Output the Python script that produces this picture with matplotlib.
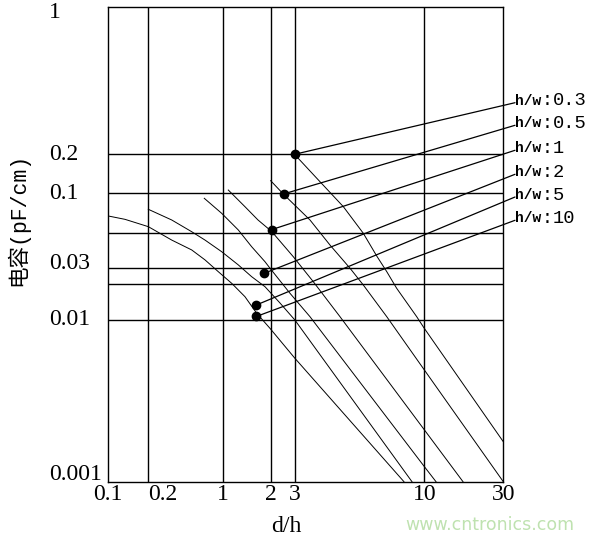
import numpy as np
import matplotlib
matplotlib.use("Agg")
import matplotlib.pyplot as plt
from matplotlib import transforms
from matplotlib.ticker import NullLocator

plt.rcParams["font.family"] = ["Liberation Serif", "Noto Sans CJK SC"]

# axis ticks / grid (the original chart uses an uneven log axis)
x_ticks = [0.1, 0.2, 1, 2, 3, 10, 30]
x_tick_labels = ["0.1", "0.2", "1", "2", "3", "10", "30"]
x_grid = [0.2, 1, 2, 3, 10]
y_ticks = [1, 0.2, 0.1, 0.03, 0.01, 0.001]
y_tick_labels = ["1", "0.2", "0.1", "0.03", "0.01", "0.001"]
y_grid = [0.2, 0.1, 0.05, 0.03, 0.02, 0.01]

# curves: d/h vs capacitance (pF/cm) for each h/w
hw_labels = ["0.3", "0.5", "1", "2", "5", "10"]
dh_03 = [3.0, 3.8, 4.72, 5.68, 6.43, 7.06, 7.74, 9.32, 10, 30]
c_03 = [0.2, 0.1229, 0.0793, 0.05, 0.0359, 0.0275, 0.01848, 0.01057, 0.00882, 0.001764]
dh_05 = [2.0, 2.479, 3.463, 4.17, 5.02, 5.68, 7.06, 10, 30]
c_05 = [0.1251, 0.0988, 0.063, 0.0421, 0.03, 0.01972, 0.01057, 0.00489, 0.001]
dh_1 = [1.076, 1.373, 1.661, 2.034, 2.939, 3.571, 4.575, 10, 17.13]
c_1 = [0.106, 0.0793, 0.063, 0.0516, 0.0355, 0.02136, 0.01057, 0.00209, 0.001]
dh_2 = [0.665, 0.966, 1.245, 1.514, 1.84, 1.98, 2.779, 3.463, 10, 11.77]
c_2 = [0.0917, 0.0707, 0.053, 0.0411, 0.033, 0.03, 0.01675, 0.01057, 0.00124, 0.001]
dh_5 = [0.2, 0.3304, 0.5075, 0.675, 0.966, 1.245, 1.514, 1.84, 2.343, 3.01, 8.92]
c_5 = [0.0758, 0.063, 0.0514, 0.0453, 0.0382, 0.0315, 0.02424, 0.01908, 0.01384, 0.00993, 0.001]
dh_10 = [0.1, 0.1335, 0.2, 0.3304, 0.5075, 0.675, 0.898, 1.131, 1.373, 1.63, 1.98, 3.01, 8.28]
c_10 = [0.0675, 0.0637, 0.0561, 0.0453, 0.0392, 0.0339, 0.0275, 0.0205, 0.01567, 0.0113, 0.00882, 0.00577, 0.001]

# marked points, one per h/w
dot_dh = [3.0, 2.5, 2.045, 1.821, 1.62, 1.62]
dot_c = [0.2, 0.099, 0.0534, 0.02642, 0.0133, 0.01061]

curves = [(dh_03, c_03), (dh_05, c_05), (dh_1, c_1),
          (dh_2, c_2), (dh_5, c_5), (dh_10, c_10)]


def piecewise(t, xs, ys):
    t = np.asarray(t, dtype=float)
    out = np.interp(t, xs, ys)
    lo = (ys[1] - ys[0]) / (xs[1] - xs[0])
    hi = (ys[-1] - ys[-2]) / (xs[-1] - xs[-2])
    out = np.where(t < xs[0], ys[0] + (t - xs[0]) * lo, out)
    out = np.where(t > xs[-1], ys[-1] + (t - xs[-1]) * hi, out)
    return out


def uneven_log(vals, spots):
    lv = np.log10(vals)
    sp = np.asarray(spots, dtype=float)

    def fwd(v):
        with np.errstate(divide="ignore", invalid="ignore"):
            return piecewise(np.log10(np.asarray(v, dtype=float)), lv, sp)

    def inv(p):
        return 10 ** piecewise(p, sp, lv)

    return fwd, inv


# where each reference value sits along the axis (fraction of axis length)
x_scale = uneven_log(x_ticks, [0, 0.1013, 0.2911, 0.4111, 0.4714, 0.8, 1.0])
y_scale = uneven_log([0.001, 0.01, 0.02, 0.03, 0.05, 0.1, 0.2, 1],
                     [0, 0.3419, 0.4161, 0.45, 0.5236, 0.6079, 0.6901, 1.0])

fig = plt.figure(figsize=(5.92, 5.39), dpi=100)
ax = fig.add_axes([108.3 / 592, 57.3 / 539, 395 / 592, 474.4 / 539])
ax.set_xscale("function", functions=x_scale)
ax.set_yscale("function", functions=y_scale)
ax.set_xlim(0.1, 30)
ax.set_ylim(0.001, 1)

for v in x_grid:
    ax.axvline(v, color="black", lw=1.0)
for v in y_grid:
    ax.axhline(v, color="black", lw=1.0)

for dh, c in curves:
    ax.plot(dh, c, color="black", lw=0.7)

ax.plot(dot_dh, dot_c, "o", color="black", ms=6, zorder=5)

for s in ax.spines.values():
    s.set_linewidth(1.0)

ax.set_xticks(x_ticks, x_tick_labels)
ax.xaxis.set_minor_locator(NullLocator())
ax.set_yticks([])
ax.yaxis.set_minor_locator(NullLocator())
ax.tick_params(axis="x", length=0, pad=1.5, labelsize=17)
ax.get_xticklabels()[1].set_ha("left")

y_nudge = {"1": -5.4, "0.03": 4.3, "0.001": 7.7}
for v, lab in zip(y_ticks, y_tick_labels):
    tr = transforms.offset_copy(ax.get_yaxis_transform(), fig=fig,
                                y=y_nudge.get(lab, 0), units="dots")
    ax.text(-0.1494, v, lab, transform=tr, ha="left", va="center", fontsize=17)

# labels on the right with leader lines to the marked points
label_y = [100.7, 123.3, 148.3, 172.3, 195, 218.3]
for lab, ly, dx, dy in zip(hw_labels, label_y, dot_dh, dot_c):
    yf = 1 - ly / 539
    ax.annotate("", xy=(dx, dy), xycoords="data",
                xytext=(515 / 592, yf - 2 / 539), textcoords="figure fraction",
                arrowprops=dict(arrowstyle="-", lw=0.9, color="black",
                                shrinkA=0, shrinkB=0))
    fig.text(515 / 592, yf, "h/w", fontsize=10.5, fontweight="bold",
             family="Liberation Mono", ha="left", va="center")
    fig.text(547 / 592, yf, ":", fontsize=13, family="Liberation Mono",
             ha="center", va="center")
    fig.text(553 / 592, yf, lab, fontsize=13.5, family="Liberation Mono",
             ha="left", va="center")

fig.text(286 / 592, 1 - 526 / 539, "d/h", fontsize=17, ha="center", va="center")
fig.text(17.5 / 592, 1 - 219 / 539, "电容(pF/cm)", fontsize=15.5, rotation=90,
         family=["Liberation Mono", "Noto Sans CJK SC"], ha="center", va="center")
fig.text(490 / 592, 1 - 525 / 539, "www.cntronics.com", fontsize=12.5,
         family="DejaVu Sans", color="#bfe2b0", ha="center", va="center")

fig.savefig("out.png", dpi=100)
